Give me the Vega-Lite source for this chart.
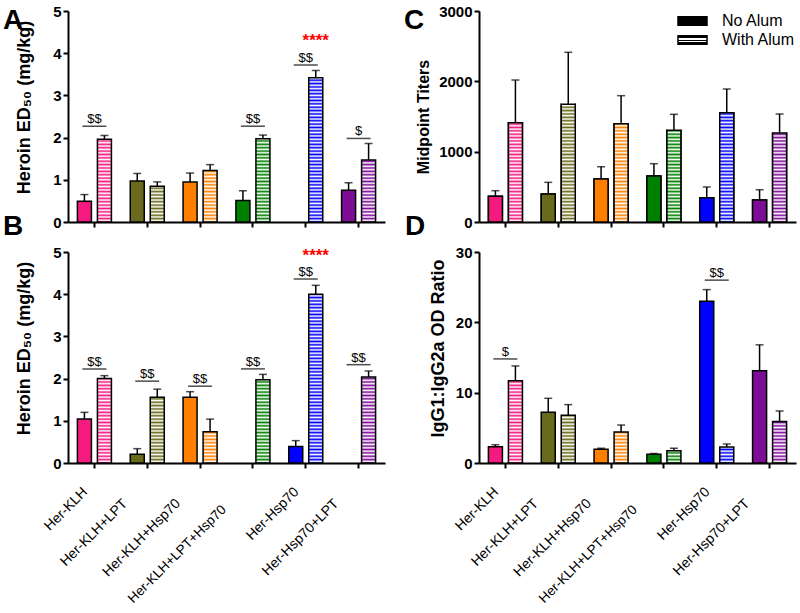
{
"$schema": "https://vega.github.io/schema/vega-lite/v6.json",
"padding": {"left": 3, "top": 4, "right": 2, "bottom": 0},
"bounds": "flush",
"columns": 2,
"spacing": {"row": 30, "column": 94},
"resolve": {"scale": {"color": "independent"}, "legend": {"color": "independent"}},
"params": [
{"name": "stripes", "value": {"gradient": "linear", "x1": 0, "y1": 0, "x2": 0, "y2": 1, "stops": [
{"offset":0,"color":"#fff"},{"offset":0.008,"color":"#fff0"},{"offset":0.016,"color":"#fff"},{"offset":0.024,"color":"#fff0"},{"offset":0.032,"color":"#fff"},{"offset":0.04,"color":"#fff0"},{"offset":0.048,"color":"#fff"},{"offset":0.056,"color":"#fff0"},{"offset":0.064,"color":"#fff"},{"offset":0.072,"color":"#fff0"},{"offset":0.08,"color":"#fff"},{"offset":0.088,"color":"#fff0"},{"offset":0.096,"color":"#fff"},{"offset":0.104,"color":"#fff0"},{"offset":0.112,"color":"#fff"},{"offset":0.12,"color":"#fff0"},{"offset":0.128,"color":"#fff"},{"offset":0.136,"color":"#fff0"},{"offset":0.144,"color":"#fff"},{"offset":0.152,"color":"#fff0"},{"offset":0.16,"color":"#fff"},{"offset":0.168,"color":"#fff0"},{"offset":0.176,"color":"#fff"},{"offset":0.184,"color":"#fff0"},{"offset":0.192,"color":"#fff"},{"offset":0.2,"color":"#fff0"},{"offset":0.208,"color":"#fff"},{"offset":0.216,"color":"#fff0"},{"offset":0.224,"color":"#fff"},{"offset":0.232,"color":"#fff0"},{"offset":0.24,"color":"#fff"},{"offset":0.248,"color":"#fff0"},{"offset":0.256,"color":"#fff"},{"offset":0.264,"color":"#fff0"},{"offset":0.272,"color":"#fff"},{"offset":0.28,"color":"#fff0"},{"offset":0.288,"color":"#fff"},{"offset":0.296,"color":"#fff0"},{"offset":0.304,"color":"#fff"},{"offset":0.312,"color":"#fff0"},{"offset":0.32,"color":"#fff"},{"offset":0.328,"color":"#fff0"},{"offset":0.336,"color":"#fff"},{"offset":0.344,"color":"#fff0"},{"offset":0.352,"color":"#fff"},{"offset":0.36,"color":"#fff0"},{"offset":0.368,"color":"#fff"},{"offset":0.376,"color":"#fff0"},{"offset":0.384,"color":"#fff"},{"offset":0.392,"color":"#fff0"},{"offset":0.4,"color":"#fff"},{"offset":0.408,"color":"#fff0"},{"offset":0.416,"color":"#fff"},{"offset":0.424,"color":"#fff0"},{"offset":0.432,"color":"#fff"},{"offset":0.44,"color":"#fff0"},{"offset":0.448,"color":"#fff"},{"offset":0.456,"color":"#fff0"},{"offset":0.464,"color":"#fff"},{"offset":0.472,"color":"#fff0"},{"offset":0.48,"color":"#fff"},{"offset":0.488,"color":"#fff0"},{"offset":0.496,"color":"#fff"},{"offset":0.504,"color":"#fff0"},{"offset":0.512,"color":"#fff"},{"offset":0.52,"color":"#fff0"},{"offset":0.528,"color":"#fff"},{"offset":0.536,"color":"#fff0"},{"offset":0.544,"color":"#fff"},{"offset":0.552,"color":"#fff0"},{"offset":0.56,"color":"#fff"},{"offset":0.568,"color":"#fff0"},{"offset":0.576,"color":"#fff"},{"offset":0.584,"color":"#fff0"},{"offset":0.592,"color":"#fff"},{"offset":0.6,"color":"#fff0"},{"offset":0.608,"color":"#fff"},{"offset":0.616,"color":"#fff0"},{"offset":0.624,"color":"#fff"},{"offset":0.632,"color":"#fff0"},{"offset":0.64,"color":"#fff"},{"offset":0.648,"color":"#fff0"},{"offset":0.656,"color":"#fff"},{"offset":0.664,"color":"#fff0"},{"offset":0.672,"color":"#fff"},{"offset":0.68,"color":"#fff0"},{"offset":0.688,"color":"#fff"},{"offset":0.696,"color":"#fff0"},{"offset":0.704,"color":"#fff"},{"offset":0.712,"color":"#fff0"},{"offset":0.72,"color":"#fff"},{"offset":0.728,"color":"#fff0"},{"offset":0.736,"color":"#fff"},{"offset":0.744,"color":"#fff0"},{"offset":0.752,"color":"#fff"},{"offset":0.76,"color":"#fff0"},{"offset":0.768,"color":"#fff"},{"offset":0.776,"color":"#fff0"},{"offset":0.784,"color":"#fff"},{"offset":0.792,"color":"#fff0"},{"offset":0.8,"color":"#fff"},{"offset":0.808,"color":"#fff0"},{"offset":0.816,"color":"#fff"},{"offset":0.824,"color":"#fff0"},{"offset":0.832,"color":"#fff"},{"offset":0.84,"color":"#fff0"},{"offset":0.848,"color":"#fff"},{"offset":0.856,"color":"#fff0"},{"offset":0.864,"color":"#fff"},{"offset":0.872,"color":"#fff0"},{"offset":0.88,"color":"#fff"},{"offset":0.888,"color":"#fff0"},{"offset":0.896,"color":"#fff"},{"offset":0.904,"color":"#fff0"},{"offset":0.912,"color":"#fff"},{"offset":0.92,"color":"#fff0"},{"offset":0.928,"color":"#fff"},{"offset":0.936,"color":"#fff0"},{"offset":0.944,"color":"#fff"},{"offset":0.952,"color":"#fff0"},{"offset":0.96,"color":"#fff"},{"offset":0.968,"color":"#fff0"},{"offset":0.976,"color":"#fff"},{"offset":0.984,"color":"#fff0"},{"offset":0.992,"color":"#fff"},{"offset":1,"color":"#fff0"}]}},
{"name": "legendStripe", "value": {"gradient": "linear", "x1": 0, "y1": 0, "x2": 0, "y2": 1, "stops": [{"offset":0,"color":"black"},{"offset":0.28,"color":"black"},{"offset":0.28,"color":"white"},{"offset":0.45,"color":"white"},{"offset":0.45,"color":"black"},{"offset":0.57,"color":"black"},{"offset":0.57,"color":"white"},{"offset":0.74,"color":"white"},{"offset":0.74,"color":"black"},{"offset":1,"color":"black"}]}}
],
"datasets": {
"A": [
{"group":"Her-KLH","alum":"No Alum","value":0.49,"upper":0.65},
{"group":"Her-KLH","alum":"With Alum","value":1.96,"upper":2.05},
{"group":"Her-KLH+LPT","alum":"No Alum","value":0.97,"upper":1.15},
{"group":"Her-KLH+LPT","alum":"With Alum","value":0.85,"upper":0.95},
{"group":"Her-KLH+Hsp70","alum":"No Alum","value":0.95,"upper":1.16},
{"group":"Her-KLH+Hsp70","alum":"With Alum","value":1.22,"upper":1.36},
{"group":"Her-KLH+LPT+Hsp70","alum":"No Alum","value":0.51,"upper":0.74},
{"group":"Her-KLH+LPT+Hsp70","alum":"With Alum","value":1.97,"upper":2.06},
{"group":"Her-Hsp70","alum":"With Alum","value":3.42,"upper":3.59},
{"group":"Her-Hsp70+LPT","alum":"No Alum","value":0.75,"upper":0.93},
{"group":"Her-Hsp70+LPT","alum":"With Alum","value":1.47,"upper":1.86}],
"A_sig": [
{"group":"Her-KLH","y":2.27,"label":"$$"},
{"group":"Her-KLH+LPT+Hsp70","y":2.27,"label":"$$"},
{"group":"Her-Hsp70","y":3.72,"label":"$$"},
{"group":"Her-Hsp70+LPT","y":1.98,"label":"$"}],
"A_star": [{"group":"Her-Hsp70","alum":"With Alum","y":4.16,"label":"****"}],
"B": [
{"group":"Her-KLH","alum":"No Alum","value":1.04,"upper":1.20},
{"group":"Her-KLH","alum":"With Alum","value":2.00,"upper":2.07},
{"group":"Her-KLH+LPT","alum":"No Alum","value":0.21,"upper":0.34},
{"group":"Her-KLH+LPT","alum":"With Alum","value":1.56,"upper":1.75},
{"group":"Her-KLH+Hsp70","alum":"No Alum","value":1.56,"upper":1.69},
{"group":"Her-KLH+Hsp70","alum":"With Alum","value":0.74,"upper":1.04},
{"group":"Her-KLH+LPT+Hsp70","alum":"With Alum","value":1.97,"upper":2.10},
{"group":"Her-Hsp70","alum":"No Alum","value":0.39,"upper":0.53},
{"group":"Her-Hsp70","alum":"With Alum","value":4.00,"upper":4.21},
{"group":"Her-Hsp70+LPT","alum":"With Alum","value":2.04,"upper":2.18}],
"B_sig": [
{"group":"Her-KLH","y":2.23,"label":"$$"},
{"group":"Her-KLH+LPT","y":1.94,"label":"$$"},
{"group":"Her-KLH+Hsp70","y":1.82,"label":"$$"},
{"group":"Her-KLH+LPT+Hsp70","y":2.23,"label":"$$"},
{"group":"Her-Hsp70","y":4.36,"label":"$$"},
{"group":"Her-Hsp70+LPT","y":2.33,"label":"$$"}],
"B_star": [{"group":"Her-Hsp70","alum":"With Alum","y":4.78,"label":"****"}],
"C": [
{"group":"Her-KLH","alum":"No Alum","value":365,"upper":445},
{"group":"Her-KLH","alum":"With Alum","value":1412,"upper":2019},
{"group":"Her-KLH+LPT","alum":"No Alum","value":398,"upper":564},
{"group":"Her-KLH+LPT","alum":"With Alum","value":1674,"upper":2413},
{"group":"Her-KLH+Hsp70","alum":"No Alum","value":611,"upper":786},
{"group":"Her-KLH+Hsp70","alum":"With Alum","value":1398,"upper":1796},
{"group":"Her-KLH+LPT+Hsp70","alum":"No Alum","value":654,"upper":829},
{"group":"Her-KLH+LPT+Hsp70","alum":"With Alum","value":1304,"upper":1531},
{"group":"Her-Hsp70","alum":"No Alum","value":346,"upper":498},
{"group":"Her-Hsp70","alum":"With Alum","value":1554,"upper":1891},
{"group":"Her-Hsp70+LPT","alum":"No Alum","value":313,"upper":459},
{"group":"Her-Hsp70+LPT","alum":"With Alum","value":1266,"upper":1536}],
"D": [
{"group":"Her-KLH","alum":"No Alum","value":2.3,"upper":2.6},
{"group":"Her-KLH","alum":"With Alum","value":11.7,"upper":13.8},
{"group":"Her-KLH+LPT","alum":"No Alum","value":7.2,"upper":9.2},
{"group":"Her-KLH+LPT","alum":"With Alum","value":6.8,"upper":8.3},
{"group":"Her-KLH+Hsp70","alum":"No Alum","value":1.95,"upper":2.1},
{"group":"Her-KLH+Hsp70","alum":"With Alum","value":4.4,"upper":5.4},
{"group":"Her-KLH+LPT+Hsp70","alum":"No Alum","value":1.24,"upper":1.35},
{"group":"Her-KLH+LPT+Hsp70","alum":"With Alum","value":1.75,"upper":2.1},
{"group":"Her-Hsp70","alum":"No Alum","value":23.0,"upper":24.65},
{"group":"Her-Hsp70","alum":"With Alum","value":2.28,"upper":2.7},
{"group":"Her-Hsp70+LPT","alum":"No Alum","value":13.1,"upper":16.8},
{"group":"Her-Hsp70+LPT","alum":"With Alum","value":5.9,"upper":7.4}],
"D_sig": [
{"group":"Her-KLH","y":14.8,"label":"$"},
{"group":"Her-Hsp70","y":26.0,"label":"$$"}]
},
"concat": [
{
"width": 317, "height": 211,
"title": {"text": "A", "anchor": "start", "frame": "group", "orient": "top", "offset": 0, "dx": -65, "dy": 52.8, "baseline": "alphabetic", "fontSize": 28, "fontWeight": "bold", "color": "black"},
"layer": [
{"data": {"name": "A"}, "mark": {"type": "bar"}, "encoding": {
"x": {"field": "group", "type": "nominal", "scale": {"domain": ["Her-KLH","Her-KLH+LPT","Her-KLH+Hsp70","Her-KLH+LPT+Hsp70","Her-Hsp70","Her-Hsp70+LPT"], "paddingInner": 0, "paddingOuter": 0}, "axis": {"labels": false, "title": null}},
"xOffset": {"field": "alum", "type": "nominal", "scale": {"domain": ["No Alum","With Alum"], "paddingInner": 0.3, "paddingOuter": 0.47}},
"y": {"field": "value", "type": "quantitative", "scale": {"domain": [0,5], "nice": false}, "axis": {"values": [0,1,2,3,4,5], "title": "Heroin ED₅₀ (mg/kg)", "titlePadding": 19, "titleY": 96}},
"fill": {"field": "group", "type": "nominal", "scale": {"domain": ["Her-KLH","Her-KLH+LPT","Her-KLH+Hsp70","Her-KLH+LPT+Hsp70","Her-Hsp70","Her-Hsp70+LPT"], "range": ["#F41A80","#6A6A1C","#FF8000","#008000","#0000FF","#7D0C96"]}, "legend": null}}},
{"data": {"name": "A"}, "transform": [{"filter": "datum.alum === 'With Alum'"}], "mark": {"type": "bar", "fill": {"expr": "stripes"}}, "encoding": {"x": {"field": "group", "type": "nominal"}, "xOffset": {"field": "alum", "type": "nominal"}, "y": {"datum": 5, "type": "quantitative"}, "y2": {"datum": 0}}},
{"data": {"name": "A"}, "transform": [{"filter": "datum.alum === 'With Alum'"}], "mark": {"type": "bar", "fill": "white"}, "encoding": {"x": {"field": "group", "type": "nominal"}, "xOffset": {"field": "alum", "type": "nominal"}, "y": {"field": "value", "type": "quantitative"}, "y2": {"datum": 5}}},
{"data": {"name": "A"}, "mark": {"type": "bar", "fill": "transparent", "stroke": "black", "strokeWidth": 1.5}, "encoding": {"x": {"field": "group", "type": "nominal"}, "xOffset": {"field": "alum", "type": "nominal"}, "y": {"field": "value", "type": "quantitative"}}},
{"data": {"name": "A"}, "mark": {"type": "rule", "color": "black", "strokeWidth": 1.5}, "encoding": {"x": {"field": "group", "type": "nominal"}, "xOffset": {"field": "alum", "type": "nominal"}, "y": {"field": "value", "type": "quantitative"}, "y2": {"field": "upper"}}},
{"data": {"name": "A"}, "mark": {"type": "tick", "color": "black", "size": 8, "thickness": 1.5}, "encoding": {"x": {"field": "group", "type": "nominal"}, "xOffset": {"field": "alum", "type": "nominal"}, "y": {"field": "upper", "type": "quantitative"}}},
{"data": {"name": "A_sig"}, "mark": {"type": "tick", "color": "black", "size": 24, "thickness": 1.5}, "encoding": {"x": {"field": "group", "type": "nominal"}, "y": {"field": "y", "type": "quantitative"}}},
{"data": {"name": "A_sig"}, "mark": {"type": "text", "fontSize": 13, "baseline": "alphabetic", "dy": -3, "color": "black"}, "encoding": {"x": {"field": "group", "type": "nominal"}, "y": {"field": "y", "type": "quantitative"}, "text": {"field": "label"}}},
{"data": {"name": "A_star"}, "mark": {"type": "text", "fontSize": 17, "fontWeight": "bold", "color": "#FF0000", "baseline": "alphabetic"}, "encoding": {"x": {"field": "group", "type": "nominal"}, "xOffset": {"field": "alum", "type": "nominal"}, "y": {"field": "y", "type": "quantitative"}, "text": {"field": "label"}}}
]
},
{
"width": 317, "height": 211,
"title": {"text": "C", "anchor": "start", "frame": "group", "orient": "top", "offset": 0, "dx": -75, "dy": 52.8, "baseline": "alphabetic", "fontSize": 28, "fontWeight": "bold", "color": "black"},
"layer": [
{"data": {"name": "C"}, "mark": {"type": "bar", "stroke": "black", "strokeWidth": 1.5}, "encoding": {
"x": {"field": "group", "type": "nominal", "scale": {"domain": ["Her-KLH","Her-KLH+LPT","Her-KLH+Hsp70","Her-KLH+LPT+Hsp70","Her-Hsp70","Her-Hsp70+LPT"], "paddingInner": 0, "paddingOuter": 0}, "axis": {"labels": false, "title": null}},
"xOffset": {"field": "alum", "type": "nominal", "scale": {"domain": ["No Alum","With Alum"], "paddingInner": 0.3, "paddingOuter": 0.47}},
"y": {"field": "value", "type": "quantitative", "scale": {"domain": [0,3000], "nice": false}, "axis": {"values": [0,1000,2000,3000], "format": "d", "title": "Midpoint Titers", "titleFontSize": 16, "titlePadding": 7}},
"color": {"field": "alum", "type": "nominal", "scale": {"domain": ["No Alum","With Alum"], "range": ["black", {"expr": "legendStripe"}]}, "legend": {"title": null, "orient": "none", "legendX": 202.5, "legendY": -1, "symbolType": "M-1.45,-0.43H1.45V0.43H-1.45Z", "symbolSize": 400, "symbolStrokeColor": "black", "symbolStrokeWidth": 1.5, "labelFontSize": 16, "labelFontWeight": "normal", "labelColor": "black", "labelOffset": 18.5, "rowPadding": 0}}}},
{"data": {"name": "C"}, "mark": {"type": "bar"}, "encoding": {"x": {"field": "group", "type": "nominal"}, "xOffset": {"field": "alum", "type": "nominal"}, "y": {"field": "value", "type": "quantitative"},
"fill": {"field": "group", "type": "nominal", "scale": {"domain": ["Her-KLH","Her-KLH+LPT","Her-KLH+Hsp70","Her-KLH+LPT+Hsp70","Her-Hsp70","Her-Hsp70+LPT"], "range": ["#F41A80","#6A6A1C","#FF8000","#008000","#0000FF","#7D0C96"]}, "legend": null}}},
{"data": {"name": "C"}, "transform": [{"filter": "datum.alum === 'With Alum'"}], "mark": {"type": "bar", "fill": {"expr": "stripes"}}, "encoding": {"x": {"field": "group", "type": "nominal"}, "xOffset": {"field": "alum", "type": "nominal"}, "y": {"datum": 3000, "type": "quantitative"}, "y2": {"datum": 0}}},
{"data": {"name": "C"}, "transform": [{"filter": "datum.alum === 'With Alum'"}], "mark": {"type": "bar", "fill": "white"}, "encoding": {"x": {"field": "group", "type": "nominal"}, "xOffset": {"field": "alum", "type": "nominal"}, "y": {"field": "value", "type": "quantitative"}, "y2": {"datum": 3000}}},
{"data": {"name": "C"}, "mark": {"type": "bar", "fill": "transparent", "stroke": "black", "strokeWidth": 1.5}, "encoding": {"x": {"field": "group", "type": "nominal"}, "xOffset": {"field": "alum", "type": "nominal"}, "y": {"field": "value", "type": "quantitative"}}},
{"data": {"name": "C"}, "mark": {"type": "rule", "color": "black", "strokeWidth": 1.5}, "encoding": {"x": {"field": "group", "type": "nominal"}, "xOffset": {"field": "alum", "type": "nominal"}, "y": {"field": "value", "type": "quantitative"}, "y2": {"field": "upper"}}},
{"data": {"name": "C"}, "mark": {"type": "tick", "color": "black", "size": 8, "thickness": 1.5}, "encoding": {"x": {"field": "group", "type": "nominal"}, "xOffset": {"field": "alum", "type": "nominal"}, "y": {"field": "upper", "type": "quantitative"}}}
]
},
{
"width": 317, "height": 211,
"title": {"text": "B", "anchor": "start", "frame": "group", "orient": "top", "offset": 0, "dx": -65, "dy": 17.5, "baseline": "alphabetic", "fontSize": 28, "fontWeight": "bold", "color": "black"},
"resolve": {"axis": {"x": "independent"}},
"layer": [
{"data": {"name": "B"}, "mark": {"type": "bar"}, "encoding": {
"x": {"field": "group", "type": "nominal", "scale": {"domain": ["Her-KLH","Her-KLH+LPT","Her-KLH+Hsp70","Her-KLH+LPT+Hsp70","Her-Hsp70","Her-Hsp70+LPT"], "paddingInner": 0, "paddingOuter": 0}, "axis": {"orient": "bottom", "title": null, "values": ["Her-KLH","Her-Hsp70"], "labelAngle": -45, "labelAlign": "right", "labelBaseline": "middle", "labelFontSize": 14, "labelFontWeight": "normal", "labelPadding": 21.5, "labelOffset": -9}},
"xOffset": {"field": "alum", "type": "nominal", "scale": {"domain": ["No Alum","With Alum"], "paddingInner": 0.3, "paddingOuter": 0.47}},
"y": {"field": "value", "type": "quantitative", "scale": {"domain": [0,5], "nice": false}, "axis": {"values": [0,1,2,3,4,5], "title": "Heroin ED₅₀ (mg/kg)", "titlePadding": 19, "titleY": 96}},
"fill": {"field": "group", "type": "nominal", "scale": {"domain": ["Her-KLH","Her-KLH+LPT","Her-KLH+Hsp70","Her-KLH+LPT+Hsp70","Her-Hsp70","Her-Hsp70+LPT"], "range": ["#F41A80","#6A6A1C","#FF8000","#008000","#0000FF","#7D0C96"]}, "legend": null}}},
{"data": {"name": "B"}, "transform": [{"filter": "datum.alum === 'With Alum'"}], "mark": {"type": "bar", "fill": {"expr": "stripes"}}, "encoding": {"x": {"field": "group", "type": "nominal", "axis": {"orient": "bottom", "title": null, "domain": false, "values": ["Her-KLH+LPT","Her-KLH+Hsp70","Her-Hsp70+LPT"], "labelAngle": -45, "labelAlign": "right", "labelBaseline": "middle", "labelFontSize": 14, "labelFontWeight": "normal", "labelPadding": 33, "labelOffset": -22}}, "xOffset": {"field": "alum", "type": "nominal"}, "y": {"datum": 5, "type": "quantitative"}, "y2": {"datum": 0}}},
{"data": {"name": "B"}, "transform": [{"filter": "datum.alum === 'With Alum'"}], "mark": {"type": "bar", "fill": "white"}, "encoding": {"x": {"field": "group", "type": "nominal", "axis": {"orient": "bottom", "title": null, "domain": false, "values": ["Her-KLH+LPT+Hsp70"], "labelAngle": -45, "labelAlign": "right", "labelBaseline": "middle", "labelFontSize": 13.5, "labelFontWeight": "normal", "labelPadding": 39, "labelOffset": -29}}, "xOffset": {"field": "alum", "type": "nominal"}, "y": {"field": "value", "type": "quantitative"}, "y2": {"datum": 5}}},
{"data": {"name": "B"}, "mark": {"type": "bar", "fill": "transparent", "stroke": "black", "strokeWidth": 1.5}, "encoding": {"x": {"field": "group", "type": "nominal", "axis": null}, "xOffset": {"field": "alum", "type": "nominal"}, "y": {"field": "value", "type": "quantitative"}}},
{"data": {"name": "B"}, "mark": {"type": "rule", "color": "black", "strokeWidth": 1.5}, "encoding": {"x": {"field": "group", "type": "nominal", "axis": null}, "xOffset": {"field": "alum", "type": "nominal"}, "y": {"field": "value", "type": "quantitative"}, "y2": {"field": "upper"}}},
{"data": {"name": "B"}, "mark": {"type": "tick", "color": "black", "size": 8, "thickness": 1.5}, "encoding": {"x": {"field": "group", "type": "nominal", "axis": null}, "xOffset": {"field": "alum", "type": "nominal"}, "y": {"field": "upper", "type": "quantitative"}}},
{"data": {"name": "B_sig"}, "mark": {"type": "tick", "color": "black", "size": 24, "thickness": 1.5}, "encoding": {"x": {"field": "group", "type": "nominal", "axis": null}, "y": {"field": "y", "type": "quantitative"}}},
{"data": {"name": "B_sig"}, "mark": {"type": "text", "fontSize": 13, "baseline": "alphabetic", "dy": -3, "color": "black"}, "encoding": {"x": {"field": "group", "type": "nominal", "axis": null}, "y": {"field": "y", "type": "quantitative"}, "text": {"field": "label"}}},
{"data": {"name": "B_star"}, "mark": {"type": "text", "fontSize": 17, "fontWeight": "bold", "color": "#FF0000", "baseline": "alphabetic"}, "encoding": {"x": {"field": "group", "type": "nominal", "axis": null}, "xOffset": {"field": "alum", "type": "nominal"}, "y": {"field": "y", "type": "quantitative"}, "text": {"field": "label"}}}
]
},
{
"width": 317, "height": 211,
"title": {"text": "D", "anchor": "start", "frame": "group", "orient": "top", "offset": 0, "dx": -74, "dy": 17.5, "baseline": "alphabetic", "fontSize": 28, "fontWeight": "bold", "color": "black"},
"resolve": {"axis": {"x": "independent"}},
"layer": [
{"data": {"name": "D"}, "mark": {"type": "bar"}, "encoding": {
"x": {"field": "group", "type": "nominal", "scale": {"domain": ["Her-KLH","Her-KLH+LPT","Her-KLH+Hsp70","Her-KLH+LPT+Hsp70","Her-Hsp70","Her-Hsp70+LPT"], "paddingInner": 0, "paddingOuter": 0}, "axis": {"orient": "bottom", "title": null, "values": ["Her-KLH","Her-Hsp70"], "labelAngle": -45, "labelAlign": "right", "labelBaseline": "middle", "labelFontSize": 14, "labelFontWeight": "normal", "labelPadding": 21.5, "labelOffset": -9}},
"xOffset": {"field": "alum", "type": "nominal", "scale": {"domain": ["No Alum","With Alum"], "paddingInner": 0.3, "paddingOuter": 0.47}},
"y": {"field": "value", "type": "quantitative", "scale": {"domain": [0,30], "nice": false}, "axis": {"values": [0,10,20,30], "title": "IgG1:IgG2a OD Ratio", "titlePadding": 8, "titleY": 96}},
"fill": {"field": "group", "type": "nominal", "scale": {"domain": ["Her-KLH","Her-KLH+LPT","Her-KLH+Hsp70","Her-KLH+LPT+Hsp70","Her-Hsp70","Her-Hsp70+LPT"], "range": ["#F41A80","#6A6A1C","#FF8000","#008000","#0000FF","#7D0C96"]}, "legend": null}}},
{"data": {"name": "D"}, "transform": [{"filter": "datum.alum === 'With Alum'"}], "mark": {"type": "bar", "fill": {"expr": "stripes"}}, "encoding": {"x": {"field": "group", "type": "nominal", "axis": {"orient": "bottom", "title": null, "domain": false, "values": ["Her-KLH+LPT","Her-KLH+Hsp70","Her-Hsp70+LPT"], "labelAngle": -45, "labelAlign": "right", "labelBaseline": "middle", "labelFontSize": 14, "labelFontWeight": "normal", "labelPadding": 33, "labelOffset": -22}}, "xOffset": {"field": "alum", "type": "nominal"}, "y": {"datum": 30, "type": "quantitative"}, "y2": {"datum": 0}}},
{"data": {"name": "D"}, "transform": [{"filter": "datum.alum === 'With Alum'"}], "mark": {"type": "bar", "fill": "white"}, "encoding": {"x": {"field": "group", "type": "nominal", "axis": {"orient": "bottom", "title": null, "domain": false, "values": ["Her-KLH+LPT+Hsp70"], "labelAngle": -45, "labelAlign": "right", "labelBaseline": "middle", "labelFontSize": 13.5, "labelFontWeight": "normal", "labelPadding": 39, "labelOffset": -29}}, "xOffset": {"field": "alum", "type": "nominal"}, "y": {"field": "value", "type": "quantitative"}, "y2": {"datum": 30}}},
{"data": {"name": "D"}, "mark": {"type": "bar", "fill": "transparent", "stroke": "black", "strokeWidth": 1.5}, "encoding": {"x": {"field": "group", "type": "nominal", "axis": null}, "xOffset": {"field": "alum", "type": "nominal"}, "y": {"field": "value", "type": "quantitative"}}},
{"data": {"name": "D"}, "mark": {"type": "rule", "color": "black", "strokeWidth": 1.5}, "encoding": {"x": {"field": "group", "type": "nominal", "axis": null}, "xOffset": {"field": "alum", "type": "nominal"}, "y": {"field": "value", "type": "quantitative"}, "y2": {"field": "upper"}}},
{"data": {"name": "D"}, "mark": {"type": "tick", "color": "black", "size": 8, "thickness": 1.5}, "encoding": {"x": {"field": "group", "type": "nominal", "axis": null}, "xOffset": {"field": "alum", "type": "nominal"}, "y": {"field": "upper", "type": "quantitative"}}},
{"data": {"name": "D_sig"}, "mark": {"type": "tick", "color": "black", "size": 24, "thickness": 1.5}, "encoding": {"x": {"field": "group", "type": "nominal", "axis": null}, "y": {"field": "y", "type": "quantitative"}}},
{"data": {"name": "D_sig"}, "mark": {"type": "text", "fontSize": 13, "baseline": "alphabetic", "dy": -3, "color": "black"}, "encoding": {"x": {"field": "group", "type": "nominal", "axis": null}, "y": {"field": "y", "type": "quantitative"}, "text": {"field": "label"}}}
]
}
],
"config": {
"font": "Liberation Sans",
"view": {"stroke": null},
"axis": {"grid": false, "domainColor": "black", "domainWidth": 2, "tickColor": "black", "tickWidth": 2, "tickSize": 5, "labelColor": "black", "labelFontSize": 15, "labelFontWeight": "bold", "titleColor": "black", "titleFontWeight": "bold", "titleFontSize": 18}
}
}
